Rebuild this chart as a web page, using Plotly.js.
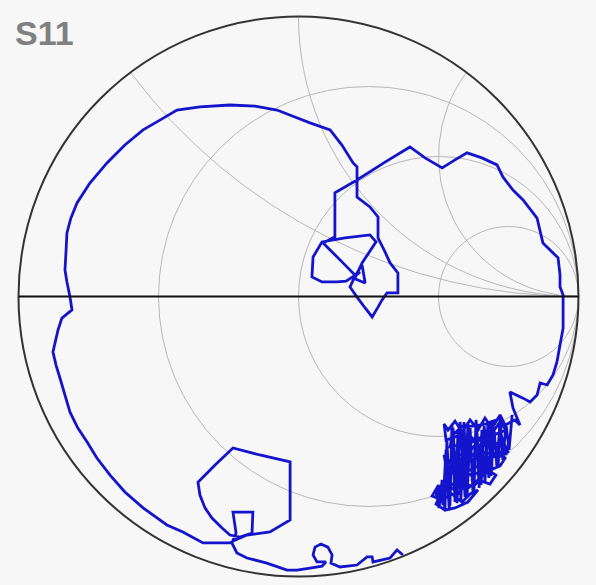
<!DOCTYPE html>
<html>
<head>
<meta charset="utf-8">
<script src="https://cdn.plot.ly/plotly-3.0.1.min.js"></script>
<style>html,body{margin:0;padding:0;background:#f7f7f7;}#chart{width:596px;height:585px;}</style>
</head>
<body>
<div id="chart"></div>
<script>
const s11Re = [0.373,0.352,0.327,0.266,0.263,0.245,0.209,0.148,
0.116,0.120,0.105,0.080,0.059,0.052,0.066,0.098,0.084,0.041,
-0.005,-0.041,-0.113,-0.184,-0.220,-0.238,
-0.223,-0.234,-0.163,-0.166,-0.209,-0.245,-0.273,-0.309,-0.334,-0.352,-0.359,-0.298,-0.234,-0.138,-0.030,-0.030,-0.030,-0.102,-0.184,-0.227,
-0.245,-0.298,-0.341,-0.413,-0.470,-0.555,-0.620,-0.673,-0.720,-0.755,-0.788,-0.816,-0.834,-0.852,-0.866,-0.877,-0.859,-0.845,-0.809,-0.816,
-0.827,-0.834,-0.830,-0.827,-0.813,-0.791,-0.745,-0.684,-0.620,-0.555,-0.495,-0.434,-0.352,-0.245,-0.155,-0.077,-0.013,0.041,0.113,0.155,
0.195,0.209,0.209,0.255,0.284,0.284,0.309,0.327,0.355,0.355,0.316,0.298,0.284,0.263,0.238,0.209,0.184,0.202,0.227,0.238,
0.195,0.220,0.170,0.138,0.084,0.048,0.052,0.084,0.166,0.255,0.277,0.227,0.205,0.166,0.088,0.130,0.130,0.130,0.209,0.309,
0.398,0.452,0.513,0.559,0.602,0.655,0.709,0.730,0.766,0.802,0.852,0.873,0.927,0.934,0.934,0.945,0.945,0.945,0.934,0.923,
0.909,0.888,0.863,0.852,0.827,0.802,0.755,0.766,0.791,
0.773,0.738,0.720,0.691,0.666,0.641,0.613,0.584,0.559,0.534,0.520,0.527,0.570,0.605,0.648,0.691,0.730,0.748,0.709,0.670,
0.627,0.584,0.541,0.520,0.530,0.577,0.620,0.666,0.705,0.684,0.641,0.598,0.559,0.527,0.498,0.477,0.513,0.548,0.584,0.613,
0.641,0.605,0.559,0.523,0.491,0.505,0.541,0.570,0.595,0.627,0.655,0.684,0.720,0.738,0.713,0.677,0.641,0.613,0.570,0.548,
0.563,0.598,0.634,0.670,0.705,0.741,0.720,0.684,0.648,0.613,0.577,0.541,0.548,0.584,0.627,0.670,0.705,
0.491,0.502,0.513,0.523,0.530,0.541,0.548,0.559,0.570,0.580,0.591,0.602,0.613,0.623,0.634,0.645,0.655,0.666,0.677,0.688,
0.698,0.709,0.720,0.730,0.741,0.752,0.763,
0.755,0.741,0.720,0.713,0.691,0.680,0.663,0.652,0.634,0.627,0.605,0.595,0.577,0.566,0.552,0.538,0.527,0.516,0.505,0.495];
const s11Im = [-0.923,-0.905,-0.934,-0.948,-0.930,-0.930,-0.959,-0.966,
-0.952,-0.923,-0.895,-0.884,-0.895,-0.923,-0.948,-0.948,-0.963,-0.970,
-0.977,-0.977,-0.952,-0.934,-0.916,-0.880,
-0.845,-0.770,-0.770,-0.845,-0.859,-0.852,-0.827,-0.791,-0.755,-0.709,-0.663,-0.602,-0.541,-0.566,-0.591,-0.691,-0.798,-0.841,-0.852,-0.870,
-0.880,-0.880,-0.880,-0.841,-0.816,-0.755,-0.698,-0.638,-0.577,-0.520,-0.470,-0.413,-0.352,-0.291,-0.245,-0.198,-0.120,-0.077,-0.048,-0.002,
0.052,0.095,0.166,0.227,0.280,0.334,0.405,0.477,0.541,0.595,0.630,0.666,0.677,0.684,0.680,0.666,0.641,0.620,0.595,0.541,
0.477,0.463,0.355,0.320,0.284,0.209,0.159,0.120,0.084,0.013,0.013,-0.013,-0.038,-0.073,-0.041,-0.002,0.034,0.073,0.113,0.048,
0.066,0.088,0.055,0.052,0.052,0.070,0.141,0.195,0.209,0.220,0.195,0.120,0.073,0.113,0.191,0.213,0.291,0.370,0.416,0.480,
0.534,0.495,0.459,0.488,0.513,0.495,0.470,0.427,0.380,0.345,0.280,0.191,0.138,0.077,0.034,0.005,-0.048,-0.113,-0.173,-0.234,
-0.280,-0.316,-0.309,-0.352,-0.377,-0.363,-0.341,-0.398,-0.459,
-0.441,-0.459,-0.423,-0.470,-0.434,-0.477,-0.441,-0.484,-0.445,-0.477,-0.455,-0.513,-0.498,-0.527,-0.505,-0.534,-0.513,-0.555,-0.577,-0.555,
-0.584,-0.563,-0.591,-0.566,-0.627,-0.613,-0.641,-0.613,-0.638,-0.670,-0.655,-0.691,-0.663,-0.691,-0.677,-0.713,-0.727,-0.705,-0.734,-0.705,
-0.691,-0.734,-0.755,-0.763,-0.741,-0.713,-0.677,-0.705,-0.670,-0.677,-0.641,-0.620,-0.605,-0.577,-0.548,-0.577,-0.605,-0.620,-0.641,-0.613,
-0.570,-0.591,-0.555,-0.527,-0.491,-0.477,-0.448,-0.498,-0.534,-0.498,-0.527,-0.541,-0.498,-0.463,-0.463,-0.455,-0.441,
-0.698,-0.755,-0.655,-0.763,-0.513,-0.748,-0.455,-0.734,-0.477,-0.727,-0.448,-0.716,-0.470,-0.702,-0.455,-0.684,-0.477,-0.663,-0.448,-0.641,
-0.470,-0.613,-0.434,-0.584,-0.455,-0.548,-0.423,
-0.513,-0.566,-0.477,-0.602,-0.441,-0.648,-0.463,-0.673,-0.441,-0.691,-0.455,-0.716,-0.448,-0.738,-0.470,-0.755,-0.548,-0.745,-0.673,-0.727];

const resistanceGrid = [1/3, 1, 3];
const reactanceGrid = [0.5, 1, 2];
const chartTitle = 'S11';

// convert reflection coefficient to normalised impedance z = (1+G)/(1-G)
const zRe = [], zIm = [];
for (let i = 0; i < s11Re.length; i++) {
  const a = s11Re[i], b = s11Im[i];
  const den = (1 - a) * (1 - a) + b * b;
  zRe.push((1 - a * a - b * b) / den);
  zIm.push((2 * b) / den);
}

const trace = {
  type: 'scattersmith',
  real: zRe,
  imag: zIm,
  mode: 'lines',
  line: {color: '#1414cc', width: 2.8},
  hoverinfo: 'skip'
};

const layout = {
  width: 596, height: 585,
  margin: {l: 0, r: 0, t: 0, b: 0},
  paper_bgcolor: '#f7f7f7',
  showlegend: false,
  smith: {
    domain: {x: [18.5/596, 578.5/596], y: [1 - 576.5/585, 1 - 16.5/585]},
    bgcolor: '#f7f7f7',
    realaxis: {
      tickvals: resistanceGrid, showticklabels: false, ticks: '',
      showgrid: true, gridcolor: '#b8b8b8', gridwidth: 1,
      showline: true, linecolor: '#111111', linewidth: 2
    },
    imaginaryaxis: {
      tickvals: reactanceGrid, showticklabels: false, ticks: '',
      showgrid: true, gridcolor: '#b8b8b8', gridwidth: 1,
      showline: true, linecolor: '#333333', linewidth: 2
    }
  },
  annotations: [{
    text: '<b>' + chartTitle + '</b>', xref: 'paper', yref: 'paper',
    x: 0.022, y: 0.98, xanchor: 'left', yanchor: 'top', showarrow: false,
    font: {family: 'Liberation Sans, Arial, sans-serif', size: 34, color: '#808080'}
  }]
};

Plotly.newPlot('chart', [trace], layout, {displayModeBar: false, staticPlot: true});
</script>
</body>
</html>
